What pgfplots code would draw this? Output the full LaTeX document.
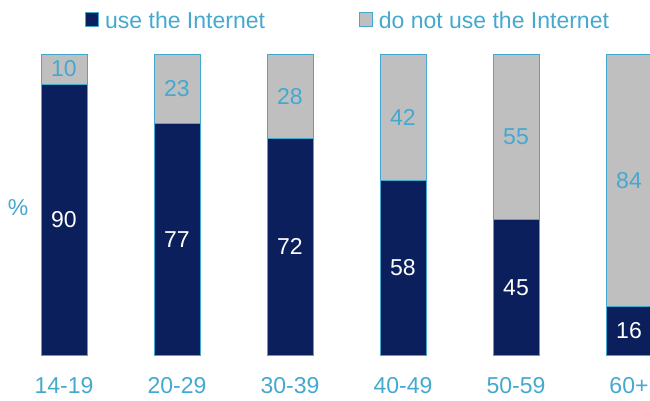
\documentclass[border=0pt]{standalone}
\usepackage{pgfplots}
\pgfplotsset{compat=1.18}
\usepackage{fontspec}
\setmainfont{Liberation Sans}
\definecolor{navy}{HTML}{0A1F5C}
\definecolor{lgray}{HTML}{BFBFBF}
\definecolor{lblue}{HTML}{45A8CF}
\newcommand{\bigf}{\fontsize{23}{26}\selectfont}
\pgfplotstableread{
x use notuse
0 90 10
1 77 23
2 72 28
3 58 42
4 45 55
5 16 84
}\datatable
\pgfplotstableread{
x y lab
0 45 90
1 38.5 77
2 36 72
3 29 58
4 22.5 45
5 8 16
}\navylabels
\pgfplotstableread{
x y lab
0 95 10
1 88.5 23
2 86 28
3 79 42
4 72.5 55
5 58 84
}\graylabels
\begin{document}
\begin{tikzpicture}[x=1pt,y=1pt]
\path[use as bounding box] (0,0) rectangle (650,400);
\clip (0,0) rectangle (650,400);
\begin{axis}[
  at={(7.5pt,45pt)}, anchor=south west,
  scale only axis, width=678pt, height=301pt,
  xmin=-0.5, xmax=5.5, ymin=0, ymax=100,
  ybar stacked, bar width=46pt,
  axis line style={draw=none},
  tick style={draw=none},
  ytick=\empty,
  xtick={0,1,2,3,4,5},
  xticklabels={14-19,20-29,30-39,40-49,50-59,60+},
  xticklabel style={text=lblue, font=\bigf, anchor=center, yshift=-31pt},
  clip=false,
  legend columns=2,
  legend style={at={(0.501,1.11)}, anchor=center, draw=none, fill=none,
    font=\bigf, text=lblue, nodes={inner sep=0pt},
    /tikz/every odd column/.append style={column sep=6pt},
    /tikz/every even column/.append style={column sep=94pt}},
]
\addplot[fill=navy, draw=lblue, line width=0.8pt,
  legend image code/.code={\draw[fill=navy,draw=lblue,line width=0.8pt] (0pt,-6pt) rectangle (13pt,8pt);}]
  table[x=x,y=use]{\datatable};
\addlegendentry{use the Internet}
\addplot[fill=lgray, draw=lblue, line width=0.8pt,
  legend image code/.code={\draw[fill=lgray,draw=lblue,line width=0.8pt] (0pt,-6pt) rectangle (13pt,8pt);}]
  table[x=x,y=notuse]{\datatable};
\addlegendentry{do not use the Internet}
\end{axis}
\begin{axis}[
  at={(7.5pt,45pt)}, anchor=south west,
  scale only axis, width=678pt, height=301pt,
  xmin=-0.5, xmax=5.5, ymin=0, ymax=100,
  hide axis, clip=false,
]
\addplot[draw=none, mark=none, nodes near coords, point meta=explicit symbolic,
  every node near coord/.append style={anchor=center, text=white, font=\bigf}]
  table[x=x,y=y,meta=lab]{\navylabels};
\addplot[draw=none, mark=none, nodes near coords, point meta=explicit symbolic,
  every node near coord/.append style={anchor=center, text=lblue, font=\bigf}]
  table[x=x,y=y,meta=lab]{\graylabels};
\end{axis}
\node[text=lblue, font=\bigf] at (18,192) {\%};
\end{tikzpicture}
\end{document}
